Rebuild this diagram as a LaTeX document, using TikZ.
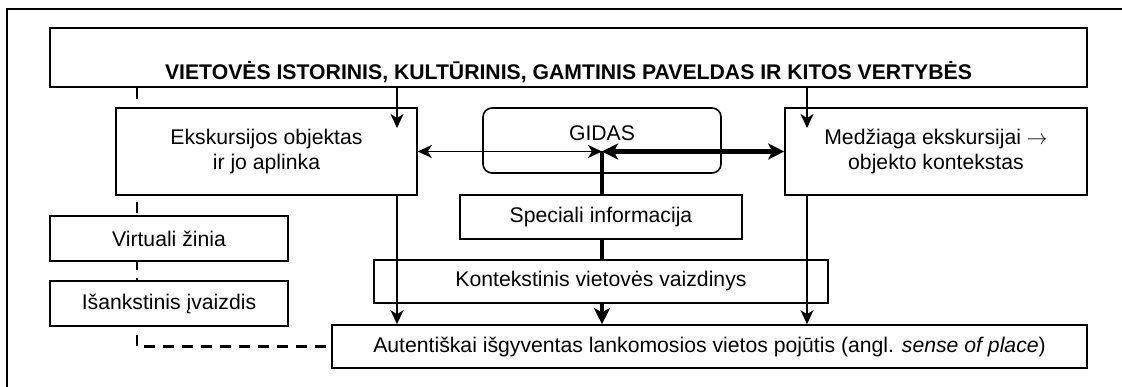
\documentclass[tikz,border=0pt]{standalone}
\usepackage{fontspec}
\setmainfont{Liberation Sans}
\usetikzlibrary{arrows.meta}
\usetikzlibrary{backgrounds}

\begin{document}
\begin{tikzpicture}[x=1pt, y=-1pt,
  box/.style={draw, line width=1.6pt, fill=white, inner sep=0pt, align=center, font=\fontsize{21.2}{25}\selectfont},
  headbox/.style={box, font=\fontsize{21.2}{25}\selectfont\bfseries},
  link/.style={line width=1.6pt, >={Stealth[length=14pt, width=13pt, inset=4pt]}},
  biglink/.style={line width=4.5pt, >={Stealth[length=16pt, width=16pt, inset=4pt]}}]
\useasboundingbox (0,0) rectangle (1122,387);
\draw[line width=2pt] (7,387) -- (7,9) -- (1122,9);

\node[headbox, minimum width=1037, minimum height=59, text height=47pt] (vert) at (568.5,57.5) {VIETOVĖS ISTORINIS, KULTŪRINIS, GAMTINIS PAVELDAS IR KITOS VERTYBĖS};
\node[box, minimum width=301, minimum height=87] (eks) at (266.5,151.5) {Ekskursijos objektas\\ir jo aplinka};
\node[box, fill=none, rounded corners=9pt, minimum width=238, minimum height=65, text depth=15pt] (gidas) at (602,140.5) {GIDAS};
\node[box, minimum width=302, minimum height=87] (med) at (936,151.5) {Medžiaga ekskursijai $\rightarrow$\\objekto kontekstas};
\node[box, minimum width=282, minimum height=44] (spec) at (601,217) {Speciali informacija};
\node[box, minimum width=454, minimum height=43] (kont) at (601,281.5) {Kontekstinis vietovės vaizdinys};
\node[box, minimum width=238, minimum height=45] (virt) at (169,238.5) {Virtuali žinia};
\node[box, minimum width=238, minimum height=45] (isank) at (169,303.5) {Išankstinis įvaizdis};
\node[box, minimum width=755, minimum height=43] (aut) at (709.5,346.5) {Autentiškai išgyventas lankomosios vietos pojūtis (angl. \textit{sense of place})};

\coordinate (jn) at (gidas.center |- eks.east);
\coordinate (ein) at (397,128);
\coordinate (min) at (807,128);
\coordinate (dash) at (137,346.5);

\begin{scope}[on background layer]
\draw[line width=2.5pt, dash pattern=on 11pt off 8pt] (vert.south -| dash) -- (dash) -- (aut.west);
\draw[biglink, ->] (jn) -- (aut.north -| jn);
\end{scope}

\draw[link, ->] (vert.south -| ein) -- (ein);
\draw[link, ->] (vert.south -| min) -- (min);
\draw[link, ->] (eks.south -| ein) -- (aut.north -| ein);
\draw[link, ->] (med.south -| min) -- (aut.north -| min);
\draw[link, <->] (eks.east) -- (jn);
\draw[biglink, <->] (jn) -- (med.west);

\end{tikzpicture}
\end{document}
